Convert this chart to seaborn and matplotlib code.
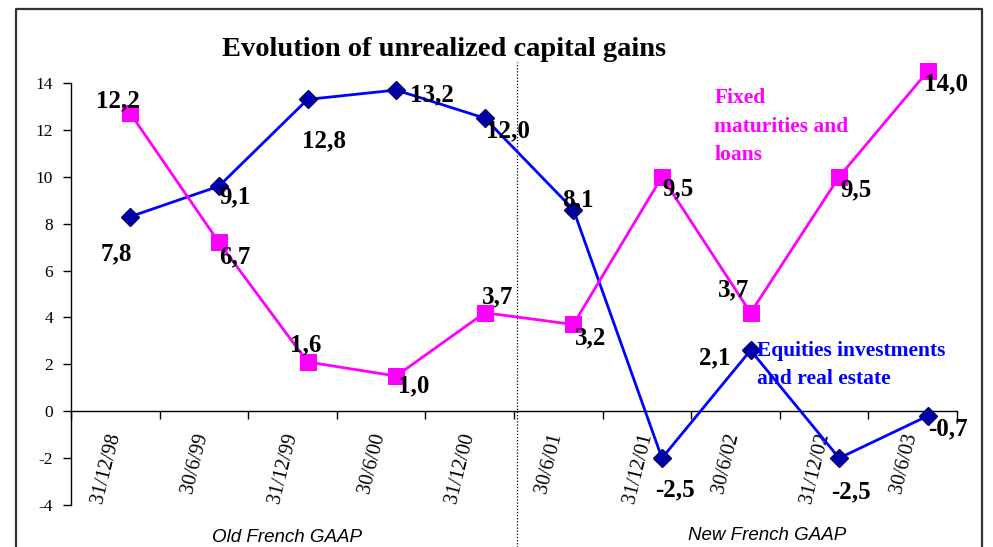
import numpy as np
import pandas as pd
import seaborn as sns
import matplotlib.pyplot as plt
from matplotlib.lines import Line2D
from matplotlib.transforms import ScaledTranslation, blended_transform_factory

# Periods on the x axis
periods = ["31/12/98", "30/6/99", "31/12/99", "30/6/00", "31/12/00",
           "30/6/01", "31/12/01", "30/6/02", "31/12/02", "30/6/03"]

# Plotted marker heights
equities_vals = [8.3, 9.6, 13.3, 13.7, 12.5, 8.6, -2.0, 2.6, -2.0, -0.2]
fixed_vals = [12.7, 7.2, 2.1, 1.5, 4.2, 3.7, 10.0, 4.2, 10.0, 14.5]

# Data labels printed next to the markers
equities_lbl = ["7,8", "9,1", "12,8", "13,2", "12,0", "8,1", "-2,5", "2,1", "-2,5", "-0,7"]
fixed_lbl = ["12,2", "6,7", "1,6", "1,0", "3,7", "3,2", "9,5", "3,7", "9,5", "14,0"]

# label offsets from the marker, in pixels
eq_off = [(-14, -37), (16, -11), (16, -41), (36, -5), (23, -13),
          (5, 10), (13, -32), (-36, -8), (12, -34), (20, -13)]
fx_off = [(-12, 13), (16, -14), (-2, 17), (18, -10), (13, 16),
          (17, -13), (16, -12), (-17, 23), (17, -13), (18, -13)]

sns.set_style("ticks", rc={"text.color": "black", "xtick.color": "black",
                           "ytick.color": "black", "axes.edgecolor": "black"})
plt.rcParams["font.family"] = ["Liberation Serif", "DejaVu Serif"]
plt.rcParams["axes.unicode_minus"] = False

W, H = 993, 547
fig = plt.figure(figsize=(W / 100, H / 100), dpi=100)
ax = fig.add_axes([71 / W, 42 / H, (957 - 71) / W, (505 - 83) / H])

# spine moves first: set_position resets the ticks
ax.spines["bottom"].set_position(("data", 0))
ax.spines["top"].set_visible(False)
ax.spines["right"].set_visible(False)
for s in ["left", "bottom"]:
    ax.spines[s].set_linewidth(1)

# markers sit a bit right of the category centres in the original
shift = 0.17
df = pd.DataFrame({
    "pos": np.arange(len(periods)) + shift,
    "equities": equities_vals,
    "fixed": fixed_vals,
})

sns.lineplot(data=df, x="pos", y="equities", ax=ax, color="#0000ff", lw=2,
             marker="D", markersize=9, markerfacecolor="#0000a8",
             markeredgecolor="#000070", markeredgewidth=1, zorder=3, clip_on=False)
sns.lineplot(data=df, x="pos", y="fixed", ax=ax, color="#ff00ff", lw=2,
             marker="s", markersize=11, markerfacecolor="#ff00ff",
             markeredgecolor="#ff00ff", zorder=3, clip_on=False)

for x, y, t, (dx, dy) in zip(df["pos"], equities_vals, equities_lbl, eq_off):
    ax.annotate(t, (x, y), xytext=(dx, dy), textcoords="offset pixels", annotation_clip=False,
                ha="center", va="center", fontsize=18, fontweight="bold", zorder=4)
for x, y, t, (dx, dy) in zip(df["pos"], fixed_vals, fixed_lbl, fx_off):
    ax.annotate(t, (x, y), xytext=(dx, dy), textcoords="offset pixels", annotation_clip=False,
                ha="center", va="center", fontsize=18, fontweight="bold", zorder=4)

ax.set_xlim(-0.5, len(periods) - 0.5)
ax.set_ylim(-4, 14)
ax.set_yticks(range(-4, 15, 2))
ax.tick_params(axis="y", labelsize=12.5, length=6, width=1, pad=7)

# tick marks between categories, labels at the centres
ax.tick_params(axis="x", which="major", length=6, width=1, direction="out", labelbottom=False)
ax.tick_params(axis="x", which="minor", length=0, pad=14, labelsize=14.5, labelrotation=76)
ax.set_xticks(np.arange(-0.5, len(periods), 1.0))
ax.set_xticks(np.arange(len(periods)), minor=True)
ax.set_xticklabels(periods, minor=True, ha="center", va="top")
for lbl in ax.get_xticklabels(minor=True):
    lbl.set_transform(lbl.get_transform() + ScaledTranslation(-9 / 100, 0, fig.dpi_scale_trans))

ax.set_xlabel("")
ax.set_ylabel("")

# series captions
ax.text(6.76, 13.77, "Fixed\nmaturities and\nloans", color="#ff00ff", fontsize=15.5,
        fontweight="bold", ha="left", va="top", linespacing=1.55)
ax.text(7.24, 2.99, "Equities investments\nand real estate", color="#0000ff", fontsize=15.5,
        fontweight="bold", ha="left", va="top", linespacing=1.55)

# dotted divider between accounting regimes
trans = blended_transform_factory(ax.transData, fig.transFigure)
ax.plot([4.53, 4.53], [0, 1 - 62 / H], transform=trans, color="black",
        lw=0.9, ls=(0, (1, 1.5)), clip_on=False)

fig.text(287 / W, 1 - 537 / H, "Old French GAAP", ha="center", va="center",
         fontsize=13.5, style="italic", family=["Liberation Sans", "DejaVu Sans"])
fig.text(767 / W, 1 - 536 / H, "New French GAAP", ha="center", va="center",
         fontsize=13.5, style="italic", family=["Liberation Sans", "DejaVu Sans"])

fig.text(444 / W, 1 - 50 / H, "Evolution of unrealized capital gains", ha="center",
         va="center", fontsize=20.5, fontweight="bold")

# outer frame (open at the bottom)
fig.add_artist(Line2D([16 / W, 16 / W, 982 / W, 982 / W],
                      [0, 1 - 9 / H, 1 - 9 / H, 0],
                      transform=fig.transFigure, color="#333333", lw=1.6))

plt.savefig("out.png", dpi=100)
